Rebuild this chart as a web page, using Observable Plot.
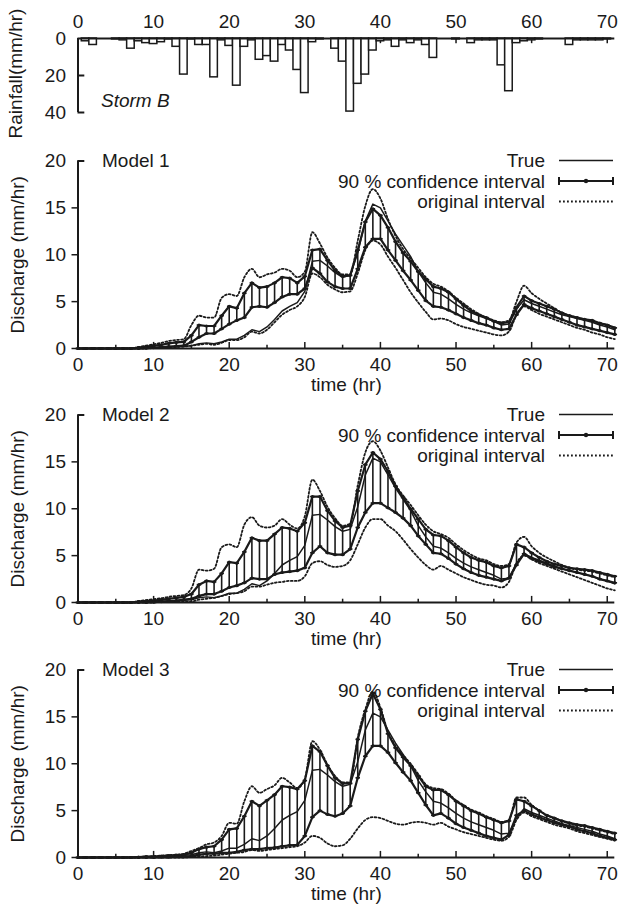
<!DOCTYPE html>
<html><head><meta charset="utf-8">
<script src="https://cdn.jsdelivr.net/npm/d3@7"></script>
<script src="https://cdn.jsdelivr.net/npm/@observablehq/plot@0.6"></script>
<style>
body{margin:0;background:#fff;}
#wrap{position:relative;width:618px;height:920px;overflow:hidden;background:#fff;}
</style></head><body><div id="wrap"></div>
<script>
// ---------- data ----------
const hours = Array.from({length: 72}, (_, i) => i);
const rainfall = [0,1.5,3.5,0,0,0.5,1,5.5, 1.5,2.5,3,2,0.5,4.5,19.5,0.5, 3.5,3.5,21,1,4,25.5,4.5,1, 11.5,9.5,12.5,3.5,6.5,17,29.5,2, 0.5,0,5.5,12.5,39.5,24.5,19.5,6.5, 1.5,1,4.5,1,2.5,1,3.5,10.5, 0,0,0.5,0,2.5,1,1,1, 14.5,28.5,2.5,1.5,1,0.5,0,0, 0,3.5,1,1,1,1,0.5,0];
const trueQ = [0,0,0,0,0,0,0,0, 0.02,0.05,0.08,0.1,0.15,0.2,0.25,0.3, 0.5,0.6,0.5,0.7,1.0,1.0,1.4,2.0, 1.8,2.3,3.1,4.0,4.5,4.9,6.1,9.3, 9.4,8.8,8.1,7.6,7.8,10.2,13.6,15.4, 15.0,13.6,12.2,11.0,9.8,8.2,7.0,6.0, 5.8,5.3,4.7,4.2,3.8,3.5,3.2,2.9, 2.5,2.6,4.2,5.2,4.8,4.5,4.2,3.9, 3.6,3.4,3.2,3.0,2.8,2.5,2.3,2.0];

const m1High = [0,0,0,0,0,0,0,0, 0.1,0.2,0.3,0.4,0.55,0.65,0.7,1.4, 2.5,2.4,2.4,3.5,4.5,4.3,5.9,7.0, 6.5,6.6,7.0,7.6,7.5,7.0,7.7,10.5, 10.6,9.4,8.3,7.7,7.8,10.5,13.5,14.9, 14.2,12.9,11.4,10.2,9.3,8.2,7.4,6.6, 6.4,6.0,5.3,4.6,4.0,3.6,3.3,2.9, 2.7,2.8,4.4,5.6,5.1,4.8,4.5,4.2, 3.8,3.5,3.3,3.1,3.0,2.7,2.5,2.2];
const m1Low = [0,0,0,0,0,0,0,0, 0,0.05,0.1,0.15,0.2,0.25,0.3,0.7, 1.2,1.6,1.6,2.1,2.6,3.0,3.3,4.4, 4.5,4.4,4.9,5.5,5.8,5.8,6.4,8.6, 8.0,7.1,6.6,6.4,6.4,8.5,10.8,11.7, 11.7,10.5,9.4,8.3,7.3,6.2,5.1,4.5, 4.4,4.1,3.7,3.3,3.0,2.7,2.5,2.2, 2.0,2.1,3.6,4.7,4.3,4.0,3.7,3.4, 3.1,2.8,2.5,2.3,2.1,1.9,1.7,1.5];
const m1OrigHigh = [0,0,0,0,0,0,0,0, 0.15,0.3,0.45,0.6,0.8,0.9,1.0,2.5, 3.5,3.3,3.3,5.4,5.8,5.6,7.6,8.5, 7.6,7.9,8.1,8.5,8.3,7.6,8.2,12.4, 11.2,9.7,8.6,7.9,7.9,11.5,15.2,17.0, 16.0,13.8,12.0,10.6,9.6,8.6,7.6,6.9, 6.6,6.1,5.4,4.8,4.2,3.7,3.3,3.0, 2.8,3.0,5.0,6.7,5.9,5.3,4.8,4.3, 3.8,3.5,3.3,3.1,2.9,2.7,2.5,2.2];
const m1OrigLow = [0,0,0,0,0,0,0,0, 0,0,0.05,0.1,0.1,0.15,0.2,0.3, 0.4,0.5,0.4,0.6,0.9,0.9,1.2,1.8, 1.6,2.0,2.8,3.6,4.1,4.5,5.5,8.0, 7.6,6.8,6.3,6.0,6.1,8.0,10.5,11.5, 11.1,9.8,8.6,7.3,6.0,4.9,3.9,3.1, 3.2,3.0,2.6,2.3,2.1,1.9,1.7,1.5, 1.4,1.8,3.6,4.5,4.1,3.7,3.4,3.1, 2.8,2.5,2.2,2.0,1.7,1.5,1.2,1.0];

const m2High = [0,0,0,0,0,0,0,0, 0.1,0.15,0.2,0.3,0.4,0.5,0.6,0.9, 1.9,2.3,2.2,3.1,4.3,4.2,5.4,6.9, 6.6,6.6,7.3,8.0,7.9,7.6,8.5,11.3, 11.3,9.8,8.7,8.0,8.2,11.9,14.7,16.0, 15.3,14.0,12.4,11.2,10.0,8.9,7.8,7.2, 7.1,6.6,5.9,5.3,4.8,4.5,4.3,3.9, 3.7,3.9,6.2,5.9,5.3,4.8,4.4,4.1, 3.9,3.7,3.6,3.5,3.4,3.2,3.0,2.8];
const m2Low = [0,0,0,0,0,0,0,0, 0,0,0.05,0.1,0.15,0.2,0.3,0.4, 0.7,0.9,0.9,1.2,1.6,1.8,2.1,2.6, 2.5,2.5,3.0,3.2,3.3,3.4,3.7,5.3, 6.0,5.3,5.1,5.1,5.7,8.0,9.6,10.6, 10.6,10.1,9.6,9.0,8.2,7.1,6.2,5.3, 5.2,4.7,4.1,3.6,3.2,2.9,2.7,2.5, 2.3,2.6,4.0,5.2,4.7,4.4,4.1,3.8, 3.6,3.4,3.2,3.0,2.8,2.5,2.3,2.1];
const m2OrigHigh = [0,0,0,0,0,0,0,0, 0.15,0.25,0.35,0.45,0.6,0.7,0.8,1.5, 3.5,3.4,3.6,5.9,6.2,5.9,8.3,9.1, 8.2,8.0,8.2,8.9,8.3,7.9,9.2,13.1, 11.9,10.2,9.0,8.2,8.4,12.5,16.0,17.2, 16.2,14.4,12.6,11.4,10.4,9.3,8.3,7.6, 7.3,6.9,6.2,5.6,5.1,4.7,4.5,4.1, 3.9,4.1,6.4,7.0,6.0,5.3,4.8,4.4, 4.0,3.7,3.5,3.4,3.3,3.1,2.9,2.7];
const m2OrigLow = [0,0,0,0,0,0,0,0, 0,0,0,0.05,0.05,0.1,0.1,0.1, 0.3,0.4,0.5,0.7,0.9,1.0,1.2,1.7, 1.7,1.9,2.1,2.2,2.3,2.3,2.8,4.2, 4.4,4.0,3.8,3.9,4.5,6.2,8.0,8.9, 8.9,8.2,7.6,6.7,5.7,4.8,4.0,3.5, 3.9,3.5,3.1,2.7,2.4,2.1,1.9,1.8, 1.6,2.2,4.2,5.0,4.6,4.2,3.9,3.6, 3.3,3.0,2.7,2.4,2.1,1.8,1.5,1.3];

const m3High = [0,0,0,0,0,0,0,0, 0.05,0.1,0.1,0.15,0.2,0.25,0.3,0.5, 0.9,1.1,1.2,1.9,3.0,3.1,4.4,6.0, 5.5,6.1,6.7,7.6,7.5,7.3,8.2,11.9, 11.3,9.8,8.5,7.9,7.9,12.6,15.6,17.5, 15.8,13.2,11.7,10.7,9.8,8.7,7.6,7.2, 7.2,6.7,6.0,5.5,5.0,4.7,4.3,4.0, 3.7,3.9,6.2,6.0,5.5,5.0,4.5,4.2, 3.9,3.7,3.5,3.4,3.2,3.0,2.8,2.6];
const m3Low = [0,0,0,0,0,0,0,0, 0,0,0,0.05,0.05,0.1,0.1,0.15, 0.3,0.4,0.4,0.5,0.5,0.6,0.8,0.9, 0.9,1.0,1.05,1.2,1.3,1.35,2.3,4.3, 5.0,4.6,4.4,4.7,5.5,8.5,10.8,11.9, 11.9,11.2,10.1,9.1,8.2,6.9,5.6,4.5, 4.7,4.2,3.6,3.2,2.9,2.6,2.3,2.1, 1.9,2.4,4.5,5.0,4.6,4.3,4.0,3.7, 3.5,3.3,3.0,2.8,2.6,2.3,2.1,1.9];
const m3OrigHigh = [0,0,0,0,0,0,0,0, 0.05,0.1,0.15,0.2,0.25,0.3,0.4,0.7, 1.0,1.4,1.6,2.3,3.7,3.6,6.0,7.6, 6.9,7.3,7.7,8.5,8.0,7.4,8.4,12.4, 11.5,9.9,8.7,8.0,8.0,12.8,15.8,17.7, 16.0,13.4,11.9,10.9,10.0,8.9,7.8,7.4, 7.3,6.8,6.1,5.6,5.1,4.8,4.4,4.1, 3.8,4.0,6.4,6.4,5.6,5.0,4.5,4.2, 3.9,3.6,3.4,3.3,3.1,2.9,2.7,2.5];
const m3OrigLow = [0,0,0,0,0,0,0,0, 0,0,0,0,0,0,0,0.05, 0.1,0.15,0.2,0.3,0.4,0.5,0.6,0.8, 0.7,0.8,0.9,1.0,1.1,1.2,1.6,2.3, 2.1,1.5,1.2,1.3,2.0,3.1,4.0,4.3, 4.2,3.9,3.6,3.5,3.7,3.8,3.7,3.5, 3.7,3.3,3.0,2.7,2.5,2.3,2.1,1.9, 1.8,2.2,4.0,4.8,4.4,4.1,3.8,3.5, 3.3,3.1,2.8,2.6,2.4,2.2,2.0,1.8];

const xTicks = [0,10,20,30,40,50,60,70];
const xMinorTicks = [5,15,25,35,45,55,65];
const qTicks = [0,5,10,15];
const qTopTick = [20];
const rainTicks = [0,20,40];
const modelNames = ["Model 1","Model 2","Model 3"];
const legendLabels = ["True","90 % confidence interval","original interval"];

// ---------- drawing ----------
const INK = "#1a1a1a";
const FONT = "'Liberation Sans', Arial, Helvetica, sans-serif";
const wrap = document.getElementById("wrap");
const baseStyle = {background: "transparent", overflow: "visible", fontFamily: FONT, fontSize: "19px", color: INK};
function place(svg, top) {
  svg.style.position = "absolute"; svg.style.left = "0px"; svg.style.top = top + "px";
  wrap.appendChild(svg);
}

// Rainfall panel
const rainRows = hours.map((h, i) => ({h, r: rainfall[i]})).filter(d => d.r > 0);
const rainPlot = Plot.plot({
  width: 618, height: 150,
  marginLeft: 77.5, marginRight: 3.7, marginTop: 38, marginBottom: 38,
  style: baseStyle,
  x: {domain: [0, 71], label: null},
  y: {domain: [0, 40], reverse: true, label: null},
  marks: [
    Plot.ruleX(xTicks, {y1: 0, y2: 2.8, stroke: INK, strokeWidth: 1.5}),
    Plot.rect(rainRows, {x1: d => d.h - 0.5, x2: d => d.h + 0.5, y1: 0, y2: "r", fill: "white", stroke: INK, strokeWidth: 1.5}),
    Plot.ruleY([0], {stroke: INK, strokeWidth: 2.2}),
    Plot.ruleX([0], {y1: 0, y2: 40, stroke: INK, strokeWidth: 2}),
    Plot.ruleY([20, 40], {x1: 0, x2: 0.9, stroke: INK, strokeWidth: 2}),
    Plot.axisX({anchor: "top", ticks: xTicks, tickSize: 0, tickPadding: 11, label: null}),
    Plot.axisY({anchor: "left", ticks: rainTicks, tickSize: 0, tickPadding: 12, label: null}),
    Plot.text(["Storm B"], {frameAnchor: "top-left", dx: 23, dy: 62.5, fontStyle: "italic", textAnchor: "start", lineAnchor: "middle", fill: INK}),
    Plot.text(["Rainfall(mm/hr)"], {frameAnchor: "left", dx: -62.5, dy: -2, rotate: -90, textAnchor: "middle", lineAnchor: "middle", fill: INK})
  ]
});
place(rainPlot, 0);

function addLegend(svg, yTop) {
  const g = d3.select(svg).append("g").attr("font-family", FONT).attr("font-size", 19).attr("fill", INK);
  const offs = [0, 20.5, 41];
  const x0 = 559, x1 = 613;
  legendLabels.forEach((t, i) => {
    g.append("text").attr("x", 545).attr("y", yTop + offs[i]).attr("text-anchor", "end")
      .attr("dominant-baseline", "central").text(t);
  });
  const s = g.append("g").attr("stroke", INK).attr("fill", "none");
  s.append("line").attr("x1", x0).attr("x2", x1).attr("y1", yTop + offs[0]).attr("y2", yTop + offs[0]).attr("stroke-width", 1.6);
  const yc = yTop + offs[1];
  s.append("line").attr("x1", x0).attr("x2", x1).attr("y1", yc).attr("y2", yc).attr("stroke-width", 2);
  s.append("line").attr("x1", x0).attr("x2", x0).attr("y1", yc - 4).attr("y2", yc + 4).attr("stroke-width", 2);
  s.append("line").attr("x1", x1).attr("x2", x1).attr("y1", yc - 4).attr("y2", yc + 4).attr("stroke-width", 2);
  g.append("circle").attr("cx", (x0 + x1) / 2).attr("cy", yc).attr("r", 2.2);
  const yo = yTop + offs[2];
  s.append("line").attr("x1", x0).attr("x2", x1).attr("y1", yo).attr("y2", yo).attr("stroke-width", 1.8).attr("stroke-dasharray", "1.8,2.2");
}

function panel(name, hi, lo, oHi, oLo, top) {
  const rows = hours.map((h, i) => ({h, t: trueQ[i], hi: hi[i], lo: lo[i], oHi: oHi[i], oLo: oLo[i]}));
  const svg = Plot.plot({
    width: 618, height: 255,
    marginLeft: 77.5, marginRight: 3.7, marginTop: 27.5, marginBottom: 40,
    style: baseStyle,
    x: {domain: [0, 71], label: null},
    y: {domain: [0, 20], label: null},
    marks: [
      Plot.line(rows, {x: "h", y: "oHi", stroke: INK, strokeWidth: 1.8, strokeDasharray: "1.8,2.2", curve: "monotone-x"}),
      Plot.line(rows, {x: "h", y: "oLo", stroke: INK, strokeWidth: 1.8, strokeDasharray: "1.8,2.2", curve: "monotone-x"}),
      Plot.ruleX(rows, {x: "h", y1: "lo", y2: "hi", stroke: INK, strokeWidth: 1.6}),
      Plot.line(rows, {x: "h", y: "t", stroke: INK, strokeWidth: 1.5}),
      Plot.line(rows, {x: "h", y: "hi", stroke: INK, strokeWidth: 2.2}),
      Plot.line(rows, {x: "h", y: "lo", stroke: INK, strokeWidth: 2.2}),
      Plot.link(rows, {x1: d => d.h - 0.3, x2: d => d.h + 0.3, y1: "hi", y2: "hi", stroke: INK, strokeWidth: 1.6}),
      Plot.link(rows, {x1: d => d.h - 0.3, x2: d => d.h + 0.3, y1: "lo", y2: "lo", stroke: INK, strokeWidth: 1.6}),
      Plot.dot(rows, {x: "h", y: "hi", r: 1.6, fill: INK, stroke: null}),
      Plot.dot(rows, {x: "h", y: "lo", r: 1.6, fill: INK, stroke: null}),
      Plot.ruleY([0], {stroke: INK, strokeWidth: 2.2}),
      Plot.ruleX([0], {stroke: INK, strokeWidth: 2}),
      Plot.ruleX(xTicks, {y1: 0, y2: 0.65, stroke: INK, strokeWidth: 1.5}),
      Plot.ruleX(xMinorTicks, {y1: 0, y2: 0.35, stroke: INK, strokeWidth: 1.5}),
      Plot.ruleY(qTopTick, {x1: 0, x2: 0.9, stroke: INK, strokeWidth: 2}),
      Plot.axisX({ticks: xTicks, tickSize: 0, tickPadding: 9, label: null}),
      Plot.axisY({ticks: qTicks, tickSize: 6, tickPadding: 6, stroke: INK, strokeWidth: 1.5, label: null}),
      Plot.axisY({ticks: qTopTick, tickSize: 0, tickPadding: 12, label: null}),
      Plot.text([name], {frameAnchor: "top-left", dx: 24, dy: 0, textAnchor: "start", lineAnchor: "middle", fill: INK}),
      Plot.text(["time (hr)"], {frameAnchor: "bottom", dy: 36, textAnchor: "middle", lineAnchor: "middle", fill: INK}),
      Plot.text(["Discharge (mm/hr)"], {frameAnchor: "left", dx: -60.5, rotate: -90, textAnchor: "middle", lineAnchor: "middle", fill: INK})
    ]
  });
  addLegend(svg, 27.5);
  place(svg, top);
}

panel(modelNames[0], m1High, m1Low, m1OrigHigh, m1OrigLow, 348 - 215);
panel(modelNames[1], m2High, m2Low, m2OrigHigh, m2OrigLow, 601.5 - 215);
panel(modelNames[2], m3High, m3Low, m3OrigHigh, m3OrigLow, 856.5 - 215);
</script></body></html>
